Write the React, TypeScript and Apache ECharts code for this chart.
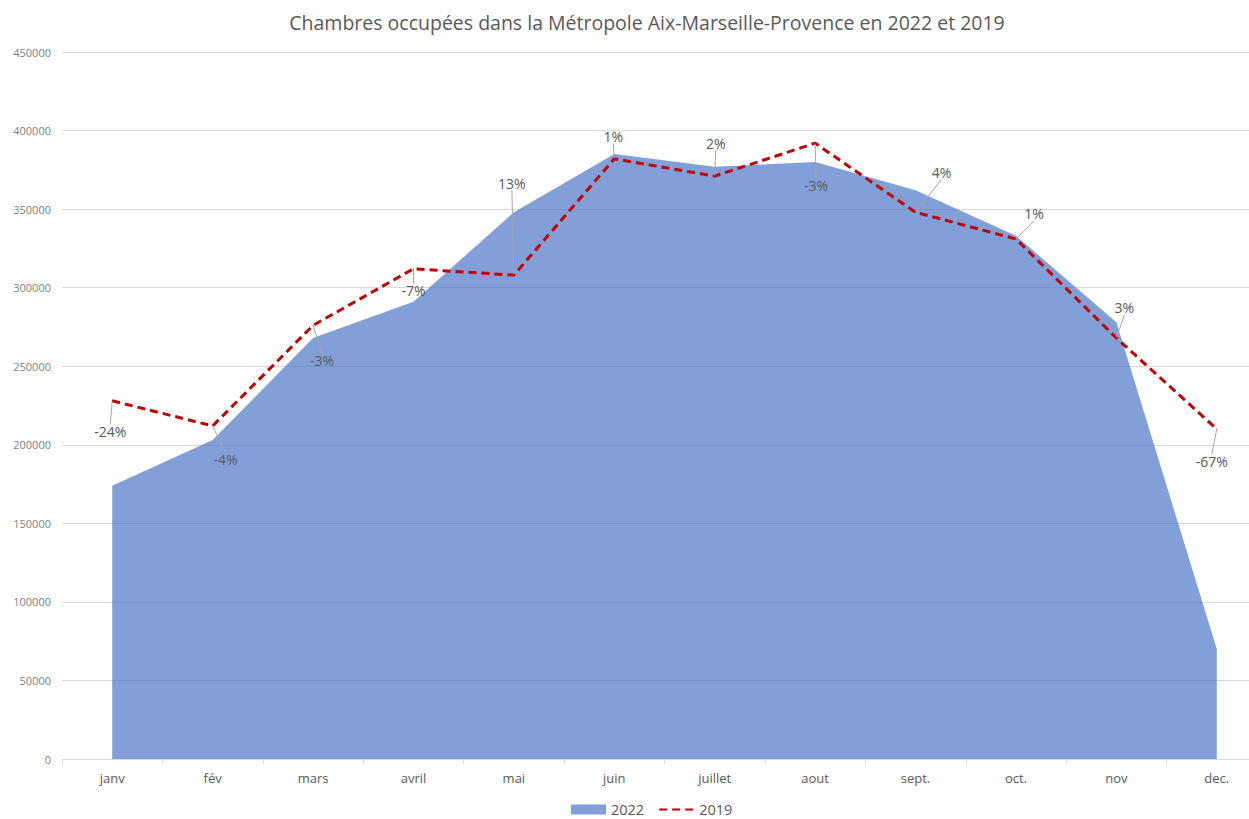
import React, { useEffect, useRef } from "react";
import * as echarts from "echarts";

const months = ["janv", "fév", "mars", "avril", "mai", "juin", "juillet", "aout", "sept.", "oct.", "nov", "dec."];
const values2022 = [174000, 203000, 268000, 291000, 348000, 385000, 377000, 380000, 362000, 333000, 278000, 70000];
const values2019 = [228000, 212000, 276000, 312000, 308000, 382000, 371000, 392000, 348000, 331000, 268000, 210000];
const evolutionLabels = ["-24%", "-4%", "-3%", "-7%", "13%", "1%", "2%", "-3%", "4%", "1%", "3%", "-67%"];
const labelOffsets: [number, number][] = [
  [-2, 31], [13, 34], [9, 35], [0, 22], [-2, -92], [-1, -22],
  [1, -33], [1, 42], [26, -40], [18, -25], [8, -30], [-5, 32],
];

const FONT = "'Open Sans', 'Noto Sans', sans-serif";

export default function App() {
  const ref = useRef<HTMLDivElement>(null);
  useEffect(() => {
    if (!ref.current) return;
    const chart = echarts.init(ref.current, null, { renderer: "svg" });
    chart.setOption({
      animation: false,
      backgroundColor: "#ffffff",
      textStyle: { fontFamily: FONT },
      title: {
        text: "Chambres occupées dans la Métropole Aix-Marseille-Provence en 2022 et 2019",
        left: 642,
        textAlign: "center",
        top: 7,
        textStyle: { color: "#595959", fontSize: 19.5, fontWeight: "normal", fontFamily: FONT },
      },
      legend: {
        bottom: -3,
        left: 566,
        itemWidth: 35,
        itemHeight: 10,
        itemGap: 14,
        textStyle: { color: "#595959", fontSize: 14.5, fontFamily: FONT },
        data: [
          { name: "2022", icon: "rect", itemStyle: { color: "rgba(68,114,196,0.67)" } },
          { name: "2019", itemStyle: { color: "rgba(0,0,0,0)", borderWidth: 0 } },
        ],
      },
      grid: { left: 62, right: 0, top: 52, bottom: 60, containLabel: false },
      xAxis: {
        type: "category",
        data: months,
        boundaryGap: true,
        axisLine: { lineStyle: { color: "#d9d9d9" } },
        axisTick: { show: true, length: 5, lineStyle: { color: "#d9d9d9" } },
        axisLabel: { color: "#595959", fontSize: 13, margin: 12, fontFamily: FONT },
      },
      yAxis: {
        type: "value",
        min: 0,
        max: 450000,
        interval: 50000,
        axisLine: { show: false },
        axisTick: { show: false },
        axisLabel: { color: "#7f7f7f", fontSize: 11, margin: 11, fontFamily: FONT, formatter: (v: number) => String(v) },
        splitLine: { lineStyle: { color: "#d9d9d9" } },
      },
      series: [
        {
          name: "2022",
          type: "line",
          data: values2022,
          showSymbol: false,
          symbol: "none",
          lineStyle: { width: 0 },
          itemStyle: { color: "rgba(68,114,196,0.67)" },
          areaStyle: { color: "#4472C4", opacity: 0.67 },
          z: 1,
        },
        {
          name: "2019",
          type: "line",
          data: values2019,
          symbol: "circle",
          symbolSize: 1,
          showSymbol: true,
          itemStyle: { color: "#C00000" },
          lineStyle: { color: "#C00000", width: 3, type: [8, 5] },
          label: {
            show: true,
            position: "inside",
            color: "#595959",
            fontSize: 14,
            fontFamily: FONT,
            formatter: (p: any) => evolutionLabels[p.dataIndex],
          },
          labelLine: { show: true, lineStyle: { color: "#a6a6a6", width: 1 } },
          labelLayout: (p: any) => ({ dx: labelOffsets[p.dataIndex][0], dy: labelOffsets[p.dataIndex][1] }),
          z: 3,
        },
      ],
    });
    return () => chart.dispose();
  }, []);
  return (
    <div style={{ position: "fixed", left: 0, top: 0, width: 1249, height: 819, overflow: "hidden" }}>
      <div ref={ref} style={{ position: "absolute", left: 0, top: 0, width: 1267, height: 819 }} />
    </div>
  );
}
